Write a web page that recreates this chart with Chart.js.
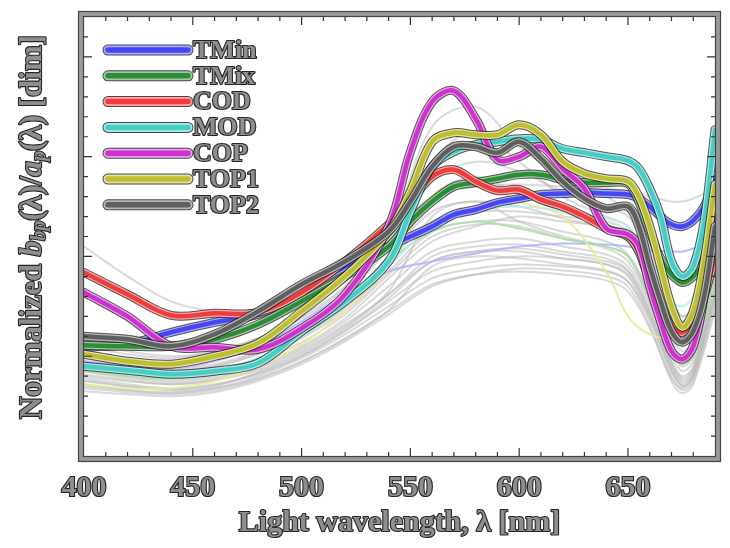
<!DOCTYPE html>
<html>
<head>
<meta charset="utf-8">
<script src="https://cdn.jsdelivr.net/npm/chart.js@4/dist/chart.umd.min.js"></script>
<style>
  html, body { margin: 0; padding: 0; background: #fff; }
  canvas { display: block; }
</style>
</head>
<body>
<canvas id="c" width="730" height="548"></canvas>
<script>
// Wavelength grids [nm]
const mainWl = [400,420,440,460,480,500,520,540,550,560,570,580,590,600,610,620,630,640,650,655,660,665,670,675,680,685,690];
const bgWl   = [400,420,440,460,480,500,520,540,560,580,600,620,640,650,660,670,675,680,690];

// Highlighted station spectra (normalized bbp/ap)
const seriesNames = ['TMin','TMix','COD','MOD','COP','TOP1','TOP2'];
const tmin = [1.09,1.12,1.24,1.34,1.42,1.65,1.90,2.10,2.20,2.30,2.42,2.47,2.54,2.58,2.62,2.63,2.64,2.63,2.62,2.58,2.50,2.40,2.32,2.30,2.36,2.50,2.77];
const tmix = [1.11,1.10,1.10,1.17,1.32,1.55,1.80,2.10,2.35,2.55,2.70,2.74,2.78,2.82,2.82,2.77,2.74,2.74,2.73,2.55,2.25,1.98,1.82,1.74,1.80,1.95,2.30];
const cod  = [1.84,1.62,1.41,1.43,1.44,1.64,1.95,2.32,2.55,2.80,2.87,2.75,2.66,2.67,2.57,2.50,2.40,2.28,2.20,2.05,1.75,1.50,1.30,1.24,1.35,1.60,2.00];
const mod  = [0.90,0.86,0.82,0.85,0.93,1.25,1.55,1.95,2.45,2.90,3.05,3.12,3.15,3.18,3.17,3.08,3.04,3.00,2.96,2.88,2.68,2.40,1.95,1.80,1.90,2.35,3.27];
const cop  = [1.64,1.40,1.10,1.09,1.07,1.28,1.62,2.30,3.05,3.55,3.66,3.38,2.97,3.00,3.10,2.88,2.68,2.28,2.22,2.10,1.70,1.35,1.05,0.97,1.10,1.60,2.50];
const top1 = [1.02,0.95,0.92,1.00,1.13,1.45,1.80,2.25,2.65,3.15,3.24,3.22,3.22,3.32,3.22,2.95,2.83,2.78,2.75,2.60,2.30,1.90,1.50,1.29,1.45,1.95,2.72];
const top2 = [1.20,1.17,1.10,1.22,1.45,1.72,1.95,2.25,2.55,2.90,3.10,3.10,3.04,3.15,2.98,2.75,2.58,2.48,2.50,2.30,1.90,1.55,1.25,1.14,1.25,1.60,2.30];
const seriesColors = ['rgb(70,70,245)','rgb(45,140,55)','rgb(240,60,60)','rgb(70,205,198)','rgb(205,50,205)','rgb(190,190,50)','rgb(95,95,95)'];

// Remaining stations (grey) and a few pale ones
const grey01 = [0.78,0.72,0.68,0.72,0.82,1.00,1.25,1.55,1.85,1.95,2.00,1.98,1.92,1.80,1.40,0.85,0.70,0.80,1.60];
const grey02 = [0.85,0.78,0.74,0.78,0.90,1.08,1.35,1.70,2.05,2.15,2.18,2.10,2.02,1.90,1.50,0.95,0.80,0.90,1.80];
const grey03 = [0.92,0.84,0.80,0.85,0.98,1.18,1.45,1.85,2.25,2.35,2.35,2.25,2.15,2.02,1.62,1.05,0.90,1.00,1.95];
const grey04 = [0.72,0.66,0.63,0.68,0.80,0.98,1.22,1.50,1.78,1.88,1.92,1.90,1.85,1.75,1.35,0.80,0.66,0.75,1.50];
const grey05 = [1.00,0.92,0.88,0.92,1.05,1.25,1.55,2.00,2.45,2.55,2.50,2.38,2.28,2.15,1.75,1.15,1.00,1.12,2.10];
const grey06 = [0.95,0.88,0.85,0.90,1.02,1.20,1.48,1.90,2.60,2.80,2.62,2.45,2.30,2.18,1.80,1.20,1.05,1.15,2.05];
const grey07 = [1.05,0.98,0.95,1.00,1.12,1.32,1.62,2.10,2.95,3.25,2.95,2.60,2.40,2.30,1.95,1.35,1.20,1.30,2.20];
const grey08 = [0.88,0.80,0.76,0.80,0.92,1.10,1.38,1.78,2.15,2.30,2.40,2.35,2.30,2.25,2.00,1.55,1.40,1.50,2.30];
const grey09 = [2.10,1.80,1.55,1.45,1.45,1.55,1.80,2.20,2.60,2.70,2.72,2.70,2.68,2.65,2.60,2.55,2.55,2.58,2.68];
const grey10 = [0.80,0.75,0.72,0.76,0.88,1.06,1.32,1.65,2.40,2.55,2.35,2.20,2.10,2.00,1.55,0.95,0.78,0.88,1.70];
const grey11 = [1.10,1.02,0.98,1.04,1.18,1.40,1.70,2.20,3.30,3.50,3.10,2.80,2.60,2.45,2.10,1.55,1.40,1.50,2.35];
const grey12 = [0.75,0.70,0.66,0.70,0.84,1.02,1.28,1.62,2.00,2.10,2.12,2.05,1.98,1.86,1.45,0.88,0.72,0.82,1.65];
const grey13 = [0.98,0.90,0.86,0.90,1.03,1.22,1.50,1.95,2.35,2.45,2.45,2.40,2.35,2.25,1.85,1.25,1.10,1.20,2.05];
const grey14 = [0.90,0.83,0.78,0.82,0.95,1.14,1.42,1.82,2.20,2.32,2.30,2.18,2.08,1.95,1.55,1.00,0.85,0.95,1.85];
const grey15 = [0.65,0.62,0.60,0.64,0.75,0.92,1.15,1.42,1.70,1.82,1.88,1.86,1.80,1.70,1.30,0.75,0.63,0.72,1.45];
const grey16 = [0.70,0.66,0.64,0.68,0.78,0.95,1.18,1.45,1.72,1.82,1.85,1.82,1.76,1.65,1.28,0.78,0.68,0.78,1.55];
const grey17 = [0.82,0.76,0.72,0.76,0.86,1.04,1.30,1.62,1.95,2.05,2.08,2.02,1.95,1.85,1.45,0.92,0.76,0.86,1.72];
const grey18 = [0.68,0.64,0.62,0.66,0.77,0.94,1.17,1.46,1.90,2.00,1.98,1.92,1.86,1.75,1.38,0.85,0.70,0.80,1.58];
const grey19 = [1.15,1.05,1.00,1.05,1.18,1.38,1.68,2.15,2.75,2.95,2.85,2.65,2.50,2.40,2.05,1.45,1.30,1.40,2.25];
const grey20 = [0.76,0.70,0.67,0.71,0.83,1.00,1.26,1.58,1.95,2.05,2.05,1.98,1.92,1.82,1.42,0.90,0.74,0.84,1.62];
const greys = [grey01,grey02,grey03,grey04,grey05,grey06,grey07,grey08,grey09,grey10,
               grey11,grey12,grey13,grey14,grey15,grey16,grey17,grey18,grey19,grey20];

const paleLavender = [0.95,0.90,0.88,0.95,1.10,1.35,1.62,1.85,1.95,2.03,2.10,2.13,2.12,2.10,2.06,2.05,2.05,2.08,2.15];
const paleGreen    = [0.85,0.80,0.78,0.84,0.98,1.20,1.55,1.95,2.25,2.35,2.28,2.18,2.10,2.00,1.60,1.05,0.92,1.00,1.75];
const paleYellow   = [0.72,0.68,0.68,0.75,0.90,1.12,1.45,1.90,2.60,2.75,2.55,2.40,1.85,1.40,1.22,1.17,1.17,1.25,1.90];
const paleCyan     = [0.88,0.82,0.80,0.85,0.98,1.20,1.50,1.90,2.30,2.45,2.50,2.45,2.38,2.30,1.95,1.55,1.50,1.60,2.20];

const xTicks = [400,450,500,550,600,650];

const FONT = '"Liberation Serif", "DejaVu Serif", serif';
const TEXT_FILL = '#8e8e8e';
const TEXT_STROKE = '#262626';

function pts(xs, ys) { return xs.map((x, i) => ({ x: x, y: ys[i] })); }
function tint(rgb, k) {
  const m = rgb.match(/\d+/g).map(Number);
  return 'rgb(' + m.map(v => Math.round(v + (255 - v) * k)).join(',') + ')';
}

function lineSet(xs, ys, color, width) {
  return {
    data: pts(xs, ys),
    borderColor: color,
    borderWidth: width,
    fill: false,
    pointRadius: 0,
    tension: 0.35,
    borderJoinStyle: 'round',
    borderCapStyle: 'round'
  };
}

// listed bottom layer first
const layers = [];
greys.forEach(g => layers.push(lineSet(bgWl, g, 'rgba(185,185,185,0.55)', 2)));
layers.push(lineSet(bgWl, paleLavender, 'rgba(175,175,255,0.85)', 2));
layers.push(lineSet(bgWl, paleGreen, 'rgba(165,225,165,0.85)', 2));
layers.push(lineSet(bgWl, paleYellow, 'rgba(235,235,150,0.95)', 2));
layers.push(lineSet(bgWl, paleCyan, 'rgba(185,235,235,0.85)', 2));

const mainSeries = [tmin, tmix, cod, mod, cop, top1, top2];
mainSeries.forEach((d, i) => {
  layers.push(lineSet(mainWl, d, 'rgba(25,25,25,0.75)', 9));
  layers.push(lineSet(mainWl, d, tint(seriesColors[i], 0.55), 7));
  layers.push(lineSet(mainWl, d, seriesColors[i], 4.5));
});
// Chart.js paints dataset 0 last, so hand it the list top layer first
const datasets = layers.slice().reverse();

function strokedText(ctx, txt, x, y) {
  ctx.lineWidth = 2.2;
  ctx.strokeStyle = TEXT_STROKE;
  ctx.lineJoin = 'round';
  ctx.strokeText(txt, x, y);
  ctx.fillStyle = TEXT_FILL;
  ctx.fillText(txt, x, y);
}

const framePlugin = {
  id: 'frame',
  afterDraw(chart) {
    const { ctx, chartArea: a, scales } = chart;
    const xs = scales.x, ys = scales.y;
    ctx.save();
    // double frame
    ctx.lineWidth = 5;
    ctx.strokeStyle = '#9a9a9a';
    ctx.strokeRect(a.left - 3, a.top - 3, a.right - a.left + 6, a.bottom - a.top + 6);
    ctx.lineWidth = 1.2;
    ctx.strokeStyle = '#444';
    ctx.strokeRect(a.left - 5.5, a.top - 5.5, a.right - a.left + 11, a.bottom - a.top + 11);
    ctx.strokeRect(a.left - 0.5, a.top - 0.5, a.right - a.left + 1, a.bottom - a.top + 1);

    // inward ticks
    ctx.strokeStyle = '#333';
    ctx.lineWidth = 1.2;
    for (let v = 410; v < 690; v += 10) {
      const px = xs.getPixelForValue(v);
      const len = (v % 50 === 0) ? 8 : 4;
      ctx.beginPath();
      ctx.moveTo(px, a.bottom); ctx.lineTo(px, a.bottom - len);
      ctx.moveTo(px, a.top); ctx.lineTo(px, a.top + len);
      ctx.stroke();
    }
    for (let k = 1; k < 22; k++) {
      const v = k * 0.2;
      const py = ys.getPixelForValue(v);
      const len = (k % 5 === 0) ? 8 : 4;
      ctx.beginPath();
      ctx.moveTo(a.left, py); ctx.lineTo(a.left + len, py);
      ctx.moveTo(a.right, py); ctx.lineTo(a.right - len, py);
      ctx.stroke();
    }

    // axis titles
    ctx.textBaseline = 'middle';
    ctx.textAlign = 'center';
    ctx.font = 'bold 30px ' + FONT;
    strokedText(ctx, 'Light wavelength, λ [nm]', (a.left + a.right) / 2, 523);

    const parts = [
      { t: 'Normalized ', f: 'bold 31px ' + FONT, dy: 0 },
      { t: 'b', f: 'italic bold 31px ' + FONT, dy: 0 },
      { t: 'bp', f: 'italic bold 20px ' + FONT, dy: 7 },
      { t: '(λ)/', f: 'bold 31px ' + FONT, dy: 0 },
      { t: 'a', f: 'italic bold 31px ' + FONT, dy: 0 },
      { t: 'p', f: 'italic bold 20px ' + FONT, dy: 7 },
      { t: '(λ) [dim]', f: 'bold 31px ' + FONT, dy: 0 }
    ];
    let total = 0;
    parts.forEach(p => { ctx.font = p.f; p.w = ctx.measureText(p.t).width; total += p.w; });
    ctx.save();
    ctx.translate(33, 227);
    ctx.rotate(-Math.PI / 2);
    ctx.textAlign = 'left';
    let cx = -total / 2;
    parts.forEach(p => { ctx.font = p.f; strokedText(ctx, p.t, cx, p.dy); cx += p.w; });
    ctx.restore();

    // legend
    const rowY = 50, rowStep = 25.8;
    seriesNames.forEach((name, i) => {
      const y = rowY + i * rowStep;
      ctx.lineCap = 'round';
      ctx.beginPath(); ctx.moveTo(108, y); ctx.lineTo(188, y);
      ctx.strokeStyle = 'rgba(25,25,25,0.8)'; ctx.lineWidth = 11; ctx.stroke();
      ctx.strokeStyle = tint(seriesColors[i], 0.55); ctx.lineWidth = 9; ctx.stroke();
      ctx.strokeStyle = seriesColors[i]; ctx.lineWidth = 5.5; ctx.stroke();
      ctx.font = 'bold 26px ' + FONT;
      ctx.textAlign = 'left';
      ctx.textBaseline = 'middle';
      strokedText(ctx, name, 193, y + 1);
    });
    ctx.restore();
  }
};

new Chart(document.getElementById('c'), {
  type: 'line',
  data: { datasets: datasets },
  options: {
    responsive: false,
    animation: false,
    devicePixelRatio: 1,
    layout: { padding: { top: 17, right: 15, left: 0, bottom: 0 } },
    plugins: { legend: { display: false }, tooltip: { enabled: false } },
    scales: {
      x: {
        type: 'linear', min: 400, max: 690,
        grid: { display: false, drawTicks: false },
        border: { display: false },
        afterBuildTicks: s => { s.ticks = xTicks.map(v => ({ value: v })); },
        ticks: {
          font: { family: FONT, size: 30, weight: 'bold' },
          color: TEXT_FILL, textStrokeColor: TEXT_STROKE, textStrokeWidth: 2.2,
          padding: 14, maxRotation: 0, autoSkip: false
        },
        afterFit: s => { s.height = 92; }
      },
      y: {
        type: 'linear', min: 0, max: 4.4,
        grid: { display: false, drawTicks: false },
        border: { display: false },
        ticks: { display: false },
        afterFit: s => { s.width = 84; }
      }
    }
  },
  plugins: [framePlugin]
});
</script>
</body>
</html>
